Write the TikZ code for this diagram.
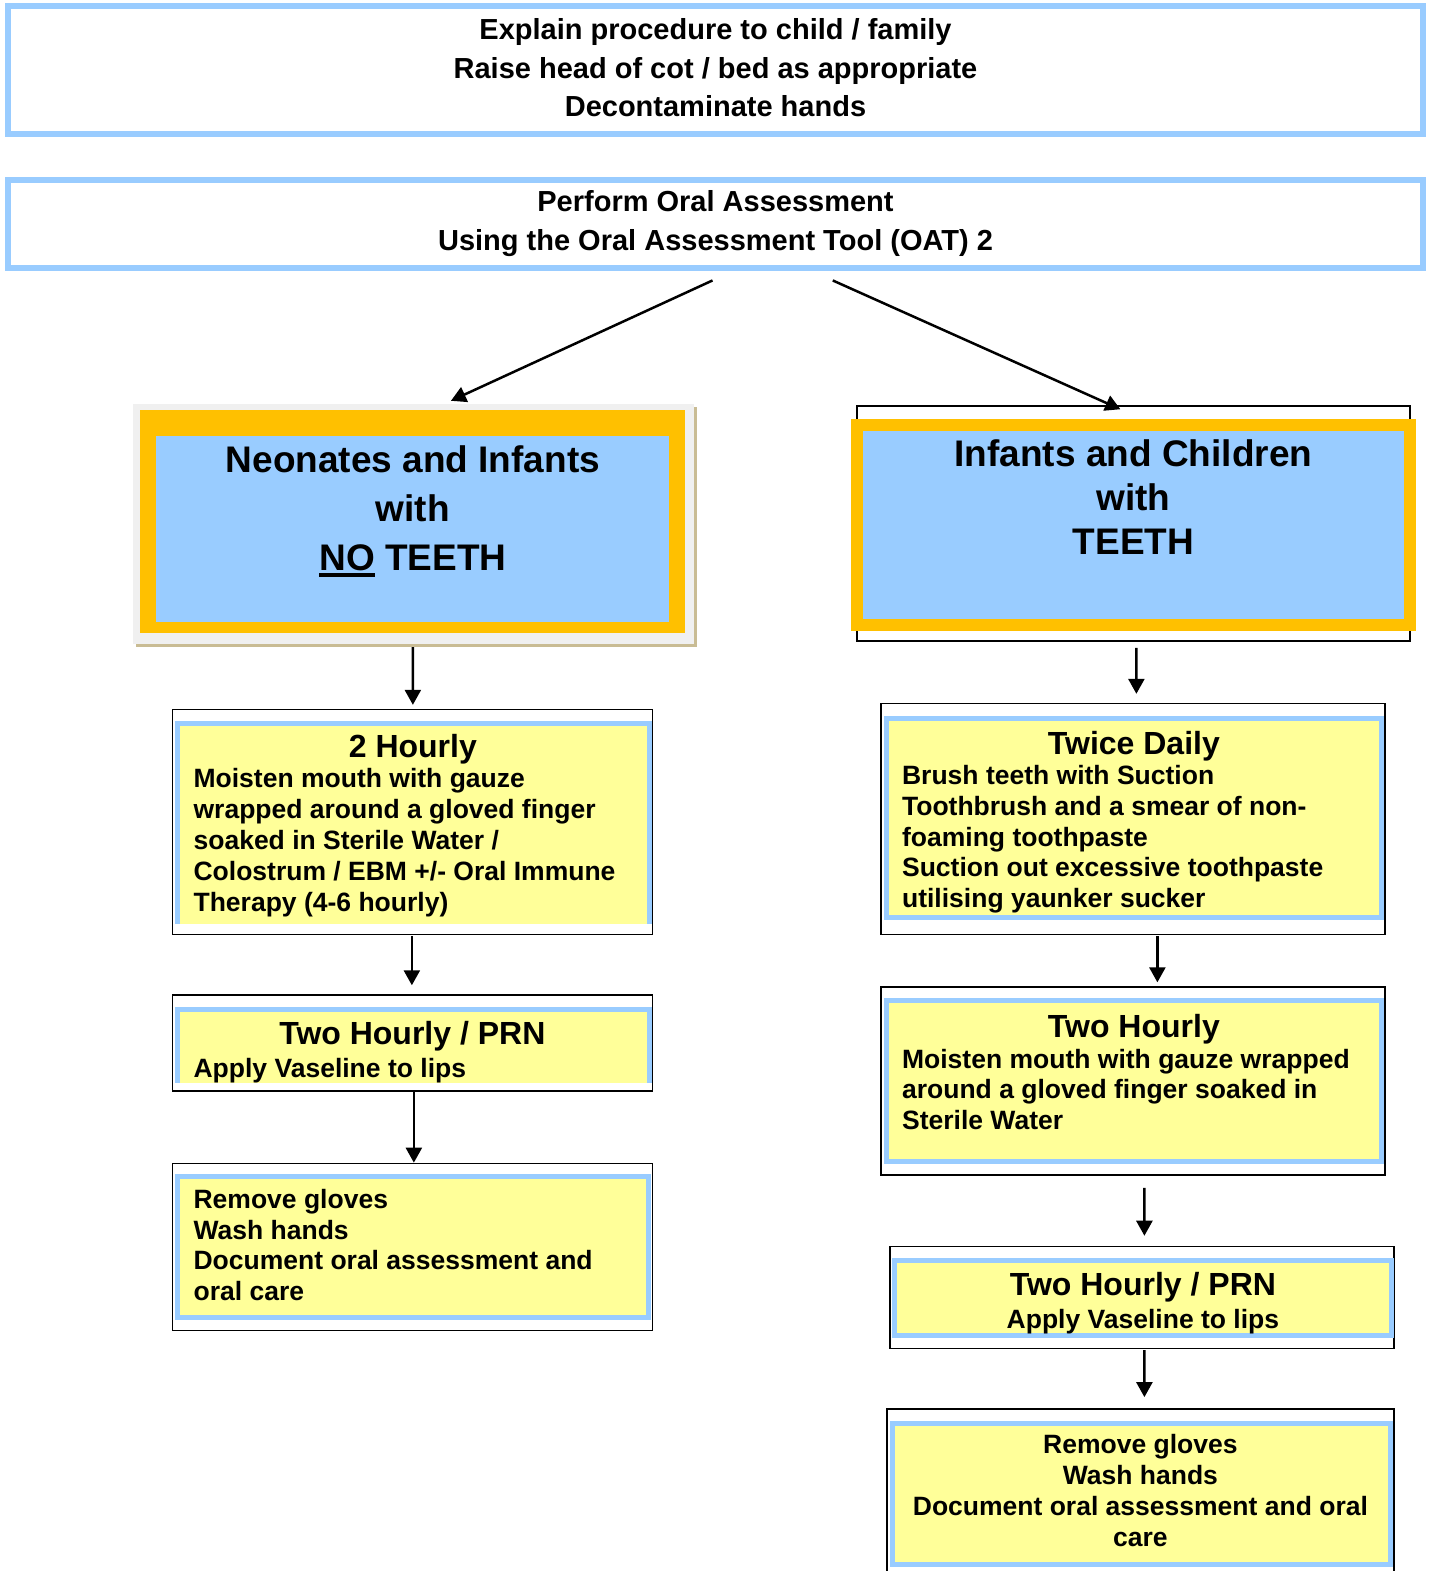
\documentclass[tikz,border=0pt]{standalone}
\usepackage{fontspec}
\setmainfont{Liberation Sans}
\usepackage{tikz}
\usetikzlibrary{shapes,arrows.meta,positioning,shadows}

\definecolor{lblue}{HTML}{99CCFF}
\definecolor{lyellow}{HTML}{FFFF99}
\definecolor{gold}{HTML}{FFC000}
\definecolor{framegray}{HTML}{F0F0F0}
\definecolor{shadowtan}{HTML}{C9BC94}

\newcommand{\ulno}[1]{\setbox0=\hbox{#1}\rlap{\rule[-6pt]{\wd0}{3.5pt}}\box0\relax}

\begin{document}
\begin{tikzpicture}[x=1.0021pt,y=-1.0019pt,
    topbox/.style={draw=lblue, line width=6pt, fill=white, minimum width=1415pt, inner sep=0pt},
    fr/.style={draw, line width=1.5pt, minimum width=480pt, inner sep=0pt},
    yb/.style={draw=lblue, fill=lyellow, line width=5pt, inner sep=0pt},
    ybopen/.style={fill=lyellow, inner sep=0pt},
    side/.style={draw=lblue, line width=5pt},
    hd/.style={font=\bfseries\fontsize{29}{38.8}\selectfont, align=center, anchor=north, inner sep=0pt},
    big/.style={font=\bfseries\fontsize{37}{#1}\selectfont, align=center, anchor=north, inner sep=0pt},
    ttl/.style={font=\bfseries\fontsize{32}{38}\selectfont, anchor=north, inner sep=0pt},
    txt/.style={font=\bfseries\fontsize{26.5}{30.8}\selectfont, align=left, anchor=north west, inner sep=0pt},
    arr/.style={-{Triangle[length=15pt,width=16pt]}, line width=2.5pt}]
\useasboundingbox (0,0) rectangle (1426,1568);

% top boxes
\node[topbox, minimum height=128pt] (prep) at (714,70) {};
\node[hd] (preptxt) at (714,18) {Explain procedure to child / family\\Raise head of cot / bed as appropriate\\Decontaminate hands};
\node[topbox, minimum height=88pt] (assess) at (714,224) {};
\node[hd] (assesstxt) at (714,190) {Perform Oral Assessment\\Using the Oral Assessment Tool (OAT) 2};

% no teeth
\node[fill=framegray, minimum width=561pt, minimum height=240pt,
      drop shadow={shadow xshift=3pt, shadow yshift=-3pt, fill=shadowtan, opacity=1}] (nt) at (413,523) {};
\node[fill=gold, minimum width=545pt, minimum height=223pt] (ntgold) at (412,520.5) {};
\node[fill=lblue, minimum width=513pt, minimum height=186pt] (ntblue) at (412,528) {};
\node[big=49] (nttxt) at (412,445) {Neonates and Infants\\with\\\ulno{NO} TEETH};

% teeth
\node[draw, line width=1.5pt, minimum width=553pt, minimum height=235pt] (wt) at (1131,522.5) {};
\node[draw=gold, fill=lblue, line width=12pt, minimum width=553pt, minimum height=200pt] (wtbox) at (1131,524) {};
\node[big=44] (wttxt) at (1131,439) {Infants and Children\\with\\TEETH};

% left column
\node[fr, minimum height=225pt] (f2h) at (411.5,820.5) {};
\node[ybopen, minimum width=471pt, minimum height=200pt] (y2h) at (412.5,822.5) {};
\draw[side] (y2h.south west) |- (y2h.north east) -- (y2h.south east);
\node[ttl] (t2h) at (412,732.5) {2 Hourly};
\node[txt] (b2h) at (193,767) {Moisten mouth with gauze\\wrapped around a gloved finger\\soaked in Sterile Water /\\Colostrum / EBM +/- Oral Immune\\Therapy (4-6 hourly)};

\node[fr, minimum height=96pt] (fprn) at (411.5,1041) {};
\node[ybopen, minimum width=471pt, minimum height=73pt] (yprn) at (412.5,1044) {};
\draw[side] (yprn.south west) |- (yprn.north east) -- (yprn.south east);
\node[ttl] (tprn) at (411.5,1019.5) {Two Hourly / PRN};
\node[txt] (bprn) at (193,1055.7) {Apply Vaseline to lips};

\node[fr, minimum height=167pt] (fend) at (411.5,1244.5) {};
\node[yb, minimum width=471pt, minimum height=141pt] (yend) at (412.5,1245) {};
\node[txt] (bend) at (193,1186.7) {Remove gloves\\Wash hands\\Document oral assessment and\\oral care};

% right column
\node[fr, minimum width=504pt, minimum height=231pt] (ftd) at (1130.5,817.5) {};
\node[yb, minimum width=495pt, minimum height=199pt] (ytd) at (1131.5,816) {};
\node[ttl] (ttd) at (1131.5,729.5) {Twice Daily};
\node[txt] (btd) at (900,763.7) {Brush teeth with Suction\\Toothbrush and a smear of non-\\foaming toothpaste\\Suction out excessive toothpaste\\utilising yaunker sucker};

\node[fr, minimum width=504pt, minimum height=188pt] (f2w) at (1130.5,1079) {};
\node[yb, minimum width=495pt, minimum height=161pt] (y2w) at (1131.5,1079) {};
\node[ttl] (t2w) at (1131.5,1012.5) {Two Hourly};
\node[txt] (b2w) at (900,1046.7) {Moisten mouth with gauze wrapped\\around a gloved finger soaked in\\Sterile Water};

\node[fr, minimum width=504pt, minimum height=102pt] (fprn2) at (1139.5,1295) {};
\node[yb, minimum width=497pt, minimum height=75pt] (yprn2) at (1140.5,1296) {};
\node[ttl] (tprn2) at (1140.5,1269.5) {Two Hourly / PRN};
\node[txt, anchor=north] (bprn2) at (1140.5,1306.7) {Apply Vaseline to lips};

\node[fr, minimum width=507pt, minimum height=168pt] (fend2) at (1138,1490) {};
\node[yb, minimum width=498pt, minimum height=141pt] (yend2) at (1139,1491) {};
\node[txt, anchor=north, align=center] (bend2) at (1138,1431.7) {Remove gloves\\Wash hands\\Document oral assessment and oral\\care};

% arrows
\draw[arr] ([shift={(-3,9)}]assess.south) -- ([shift={(37,-3)}]nt.north);
\draw[arr] ([shift={(117,9)}]assess.south) -- ([shift={(-13,4)}]wt.north);
\draw[arr, shorten <=3pt, shorten >=4pt] ([xshift=-1pt]nt.south) -- ([xshift=0.5pt]f2h.north);
\draw[arr, shorten <=1pt, shorten >=9pt] ([xshift=-0.5pt]f2h.south) -- ([xshift=-0.5pt]fprn.north);
\draw[arr] ([xshift=1.5pt]fprn.south) -- ([xshift=1.5pt]fend.north);
\draw[arr, shorten <=6pt, shorten >=9pt] ([xshift=3pt]wt.south) -- ([xshift=3.5pt]ftd.north);
\draw[arr, shorten <=1pt, shorten >=4pt] ([xshift=24.5pt]ftd.south) -- ([xshift=24.5pt]f2w.north);
\draw[arr, shorten <=12pt, shorten >=10pt] ([xshift=11.5pt]f2w.south) -- ([xshift=2.5pt]fprn2.north);
\draw[arr, shorten <=1pt, shorten >=11pt] ([xshift=2.5pt]fprn2.south) -- ([xshift=4pt]fend2.north);
\end{tikzpicture}
\end{document}
